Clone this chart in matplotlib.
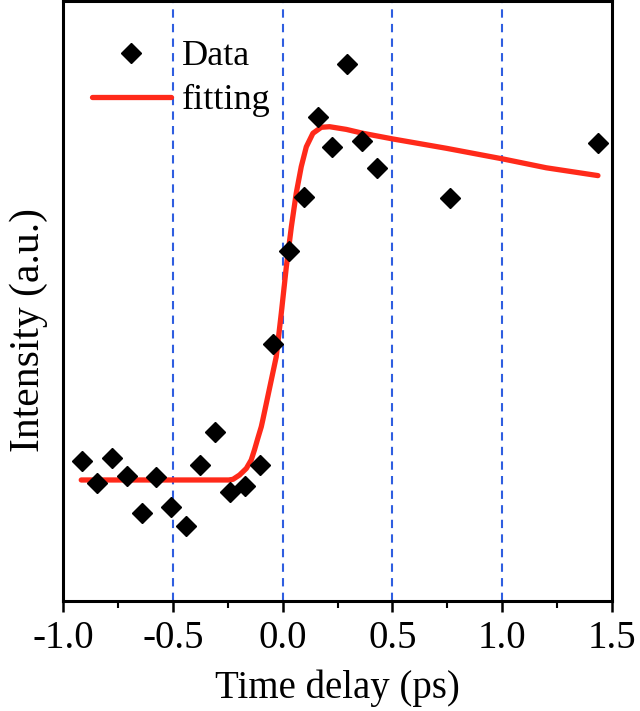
import matplotlib
matplotlib.use("Agg")
import matplotlib.pyplot as plt
from matplotlib.ticker import MultipleLocator

# Measured data (time delay in ps, intensity in arbitrary units)
data_x = [-0.912, -0.844, -0.778, -0.709, -0.642, -0.575, -0.506, -0.442,
          -0.374, -0.308, -0.240, -0.172, -0.105, -0.044, 0.029, 0.096,
          0.161, 0.226, 0.295, 0.363, 0.430, 0.764, 1.434]
data_y = [23.3, 19.6, 23.8, 20.9, 14.6, 20.7, 15.6, 12.55,
          22.7, 28.1, 18.1, 19.1, 22.6, 42.9, 58.4, 67.4,
          80.6, 75.6, 89.5, 76.7, 72.2, 67.1, 76.4]

# Fitting curve
fit_x = [-0.917, -0.378, -0.245, -0.226, -0.196, -0.165, -0.143, -0.128,
         -0.113, -0.097, -0.090, -0.029,
         -0.006, 0.017, 0.040, 0.062, 0.085, 0.108, 0.138, 0.176, 0.214,
         0.290, 0.366, 0.503, 0.746, 1.004, 1.201, 1.436]
fit_y = [20.17, 20.17, 20.17, 20.28, 21.0, 22.1, 23.5, 25.2,
         27.1, 29.05, 30.2, 40.7,
         47.95, 55.7, 62.4, 67.95, 72.4, 75.7, 77.95, 78.95, 79.05,
         78.6, 77.95, 77.0, 75.45, 73.67, 72.2, 70.9]

vlines_x = [-0.5, 0.0, 0.5, 1.0]
xticks = [-1.0, -0.5, 0.0, 0.5, 1.0, 1.5]

plt.rcParams['font.family'] = ['Liberation Serif', 'DejaVu Serif']

fig = plt.figure(figsize=(6.4, 7.11), dpi=100)
ax = fig.add_axes([63/640, 1 - 601/711, (612 - 63)/640, 600/711])

for xv in vlines_x:
    ax.axvline(xv, color='#2f5ee0', lw=1.5, ls=(0, (4, 3)), zorder=1)

ax.plot(data_x, data_y, ls='none', marker='D', ms=10.5, color='black',
        label='Data', zorder=3)
ax.plot(fit_x, fit_y, color='#ff2a1a', lw=3.8, label='fitting', zorder=2,
        solid_capstyle='round', solid_joinstyle='round')

ax.set_xlim(-1.0, 1.5)
ax.set_ylim(0, 100)
ax.set_xticks(xticks)
ax.set_xticklabels(['-1.0', '-0.5', '0.0', '0.5', '1.0', '1.5'])
ax.xaxis.set_minor_locator(MultipleLocator(0.25))
ax.set_yticks([])
ax.tick_params(axis='x', which='major', direction='out', length=8, width=1.8,
               labelsize=28, pad=6)
ax.tick_params(axis='x', which='minor', direction='out', length=5, width=1.5)
for s in ax.spines.values():
    s.set_linewidth(2.2)

ax.set_xlabel('Time delay (ps)', fontsize=28, labelpad=9)
ax.set_ylabel('Intensity (a.u.)', fontsize=30)
ax.yaxis.set_label_coords(-0.027, 0.452)

leg = ax.legend(loc='upper left', bbox_to_anchor=(0.052, 0.935), frameon=False,
                fontsize=26, handlelength=2.2, handletextpad=0.3,
                labelspacing=0.3, borderpad=0, borderaxespad=0)

fig.savefig('out.png', dpi=100)
